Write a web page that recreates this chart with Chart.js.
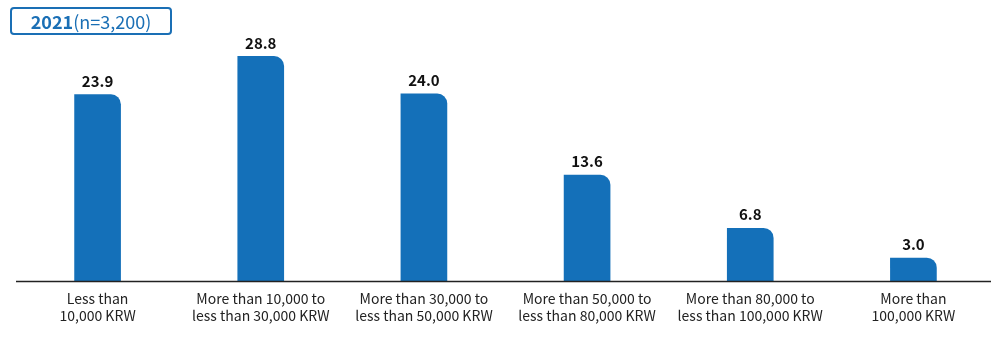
<!DOCTYPE html>
<html>
<head>
<meta charset="utf-8">
<script src="https://cdn.jsdelivr.net/npm/chart.js@4"></script>
<style>
  html, body { margin: 0; padding: 0; background: #fff; overflow: hidden; }
  #wrap { position: relative; width: 995px; height: 341px; }
  #badge {
    position: absolute; left: 10px; top: 7px; width: 158px; height: 24px;
    border: 2px solid #1a6fb5; border-radius: 4px; box-sizing: content-box;
    font-family: "Noto Sans CJK KR", "Noto Sans", sans-serif; font-size: 18px;
    line-height: 24px; color: #1a6fb5; text-align: center;
  }
  #badge b { font-weight: 700; }
</style>
</head>
<body>
<div id="wrap">
  <canvas id="c" width="995" height="341"></canvas>
  <div id="badge"><b>2021</b>(n=3,200)</div>
</div>
<script>
// Monthly spending brackets (share of respondents, %)
const categories = [
  ["Less than", "10,000 KRW"],
  ["More than 10,000 to", "less than 30,000 KRW"],
  ["More than 30,000 to", "less than 50,000 KRW"],
  ["More than 50,000 to", "less than 80,000 KRW"],
  ["More than 80,000 to", "less than 100,000 KRW"],
  ["More than", "100,000 KRW"]
];
const shares = [23.9, 28.8, 24.0, 13.6, 6.8, 3.0];

const FONT = '"Noto Sans CJK KR", "Noto Sans", sans-serif';

const valueLabels = {
  id: 'valueLabels',
  afterDatasetsDraw(chart) {
    const ctx = chart.ctx;
    const meta = chart.getDatasetMeta(0);
    ctx.save();
    ctx.font = 'bold 15px ' + FONT;
    ctx.fillStyle = '#111';
    ctx.textAlign = 'center';
    ctx.textBaseline = 'bottom';
    meta.data.forEach((bar, i) => {
      ctx.fillText(shares[i].toFixed(1), bar.x, bar.y - 6);
    });
    ctx.restore();
  }
};

const baseline = {
  id: 'baseline',
  afterDatasetsDraw(chart) {
    const { ctx, chartArea } = chart;
    const y = chart.scales.y.getPixelForValue(0);
    ctx.save();
    ctx.strokeStyle = '#222';
    ctx.lineWidth = 1.5;
    ctx.beginPath();
    ctx.moveTo(chartArea.left, y);
    ctx.lineTo(chartArea.right, y);
    ctx.stroke();
    ctx.restore();
  }
};

new Chart(document.getElementById('c'), {
  type: 'bar',
  data: {
    labels: categories,
    datasets: [{
      data: shares,
      backgroundColor: '#1470b9',
      borderWidth: 0,
      borderRadius: { topLeft: 0, topRight: 10, bottomLeft: 0, bottomRight: 0 },
      borderSkipped: false,
      barThickness: 46
    }]
  },
  options: {
    responsive: false,
    animation: false,
    layout: { padding: { left: 16, right: 0, top: 47, bottom: 8 } },
    plugins: { legend: { display: false }, tooltip: { enabled: false } },
    scales: {
      x: {
        grid: { display: false, drawTicks: false },
        border: { display: false },
        ticks: {
          color: '#222',
          font: { family: FONT, size: 14 },
          padding: 9,
          maxRotation: 0,
          autoSkip: false
        }
      },
      y: {
        display: false,
        min: 0,
        max: 30
      }
    }
  },
  plugins: [valueLabels, baseline]
});
</script>
</body>
</html>
